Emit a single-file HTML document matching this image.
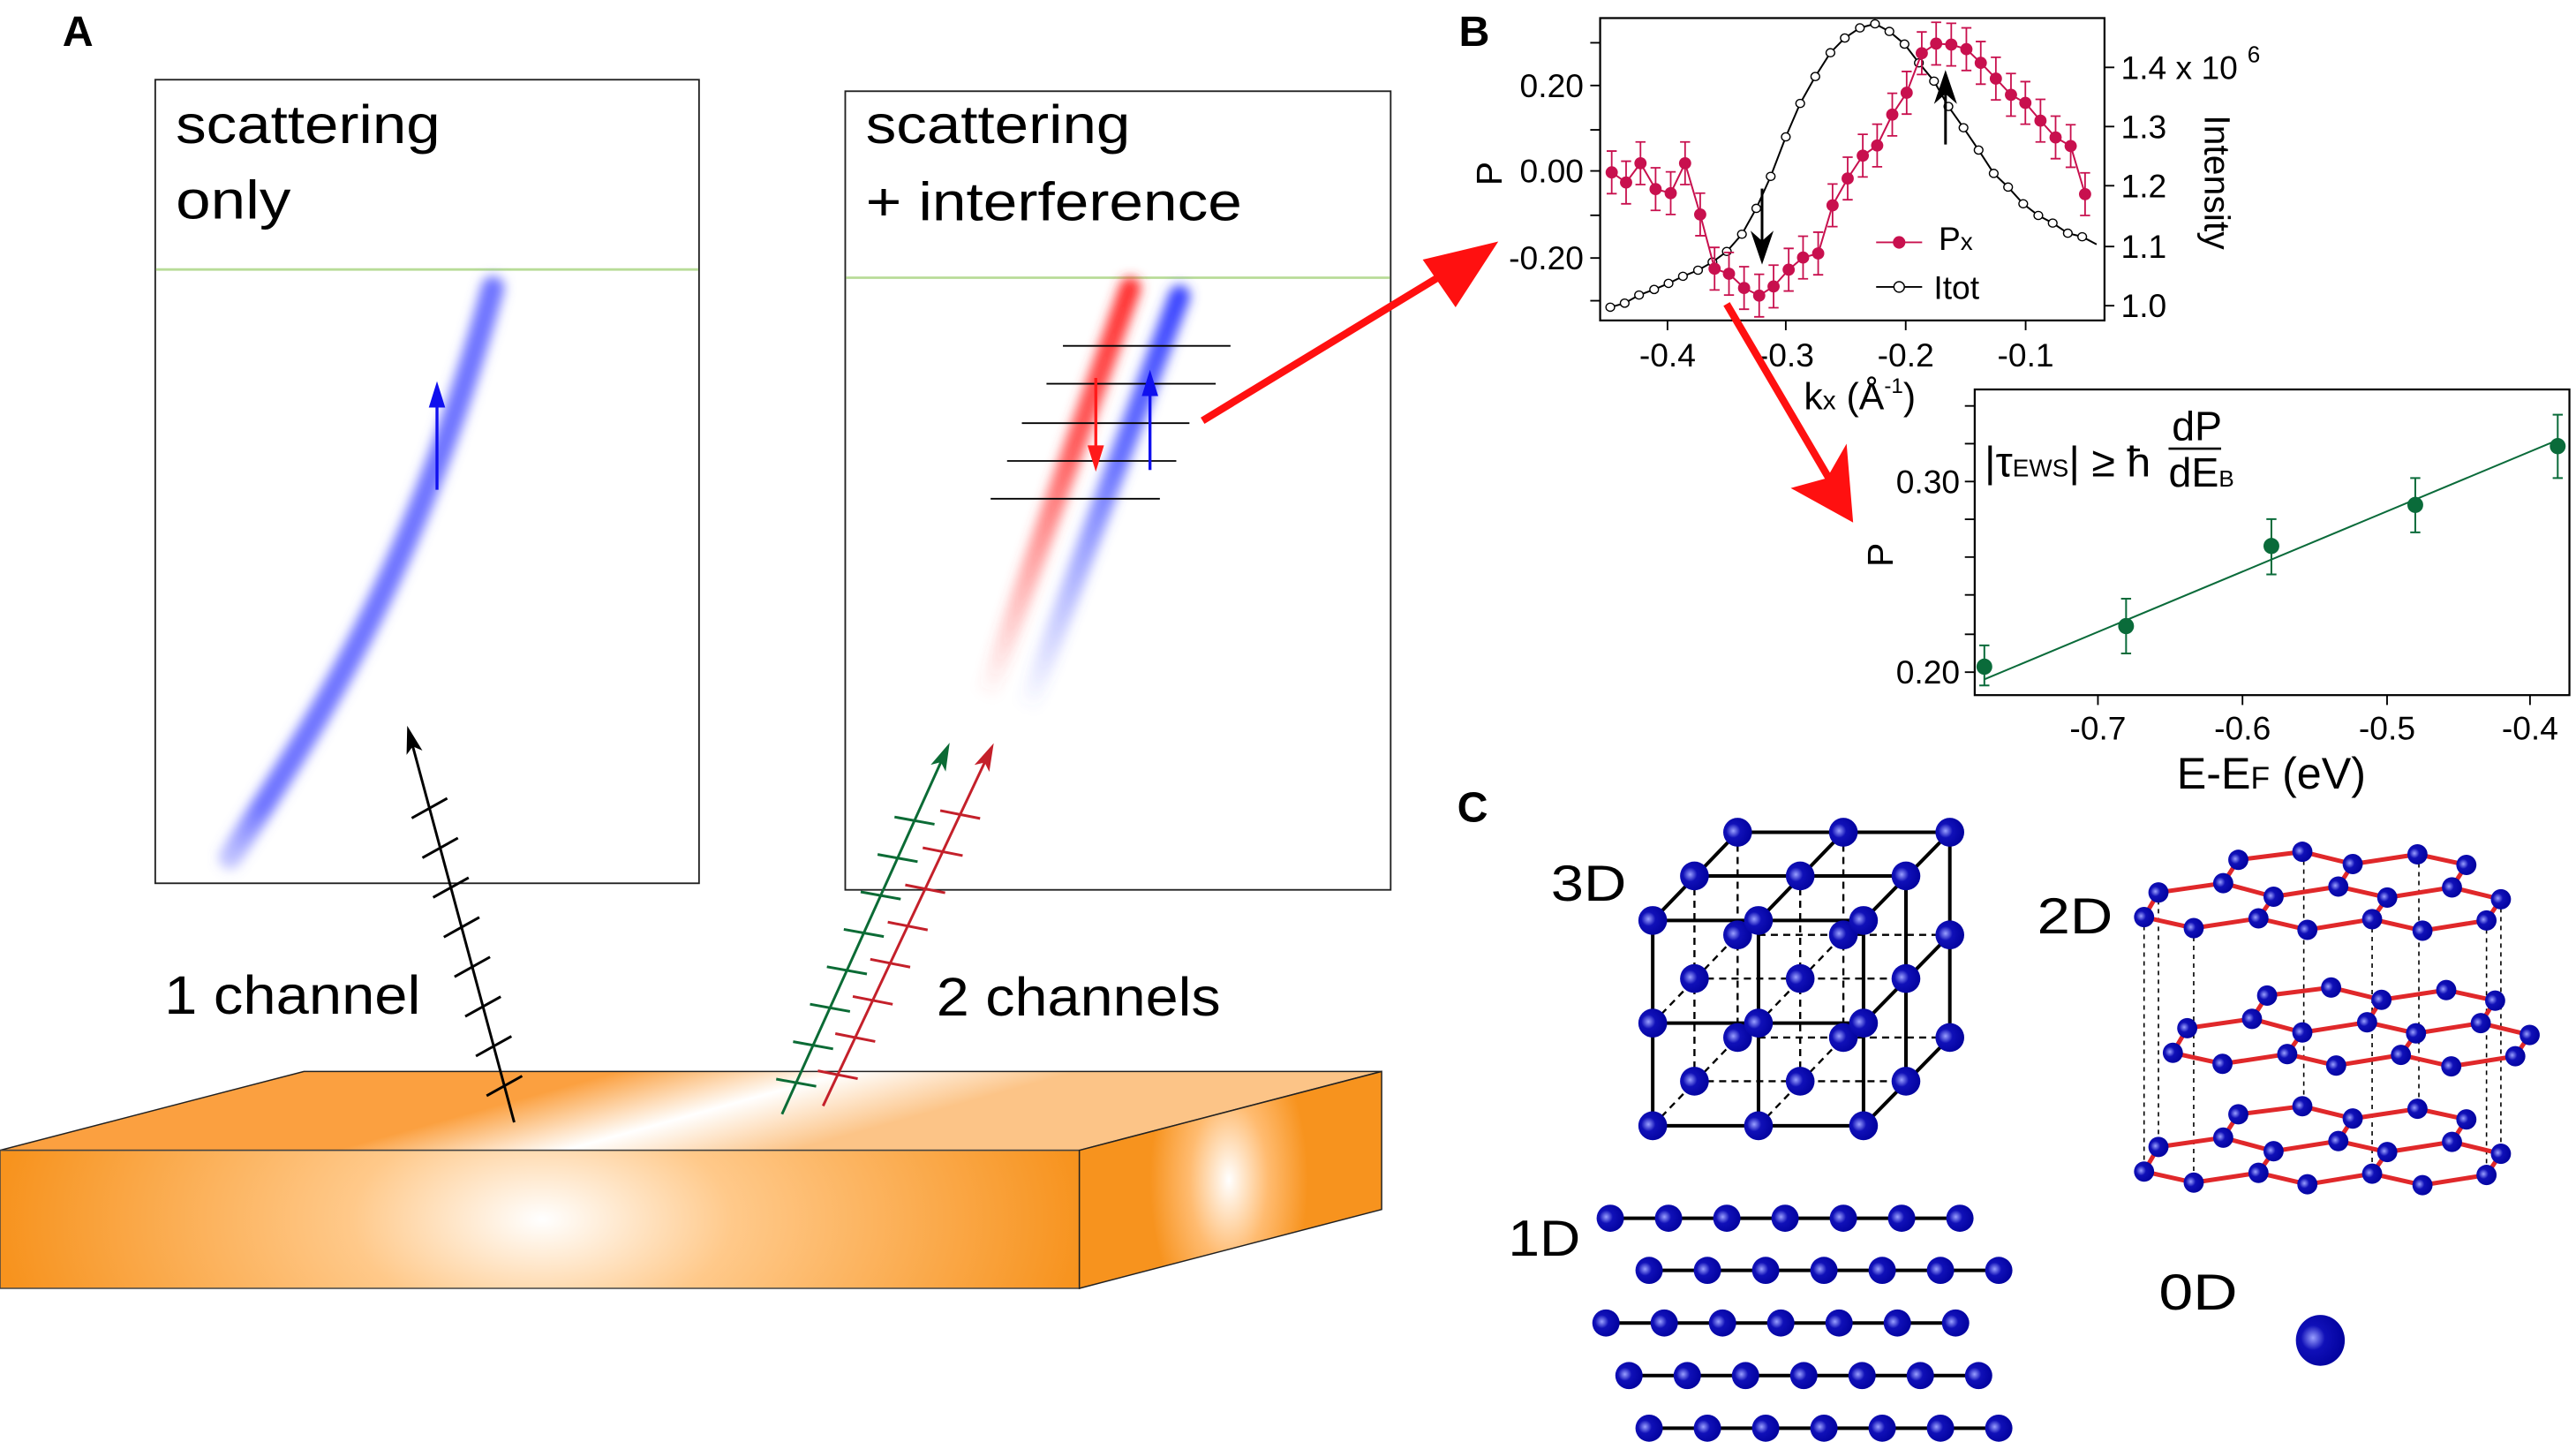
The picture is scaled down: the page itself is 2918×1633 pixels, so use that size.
<!DOCTYPE html>
<html><head><meta charset="utf-8"><style>html,body{margin:0;padding:0;background:#fff}svg{display:block}</style></head>
<body>
<svg xmlns="http://www.w3.org/2000/svg" xmlns:xlink="http://www.w3.org/1999/xlink" width="2918" height="1633" viewBox="0 0 1568 877.5">
<defs>
<filter id="bl" x="-50%" y="-20%" width="200%" height="140%"><feGaussianBlur stdDeviation="3.5"/></filter>
<linearGradient id="gb1" x1="140" y1="525" x2="300" y2="172" gradientUnits="userSpaceOnUse"><stop offset="0" stop-color="#6f74ff" stop-opacity="0.4"/><stop offset="0.1" stop-color="#6f74ff"/><stop offset="1" stop-color="#6f74ff"/></linearGradient>
<linearGradient id="gr2" x1="600" y1="425" x2="688" y2="172" gradientUnits="userSpaceOnUse"><stop offset="0" stop-color="#ff4a4a" stop-opacity="0"/><stop offset="0.6" stop-color="#ff4a4a" stop-opacity="0.9"/><stop offset="1" stop-color="#ff3030"/></linearGradient>
<linearGradient id="gb2" x1="625" y1="432" x2="718" y2="178" gradientUnits="userSpaceOnUse"><stop offset="0" stop-color="#5560ff" stop-opacity="0"/><stop offset="0.6" stop-color="#5560ff" stop-opacity="0.9"/><stop offset="1" stop-color="#3a44ff"/></linearGradient>
<radialGradient id="front" cx="330" cy="742" r="330" gradientTransform="translate(330 742) scale(1 0.55) translate(-330 -742)" gradientUnits="userSpaceOnUse"><stop offset="0" stop-color="#fff"/><stop offset="0.35" stop-color="#ffc98a"/><stop offset="1" stop-color="#f7931e"/></radialGradient>
<radialGradient id="side" cx="748" cy="718" r="60" gradientTransform="translate(748 718) scale(0.8 1.6) translate(-748 -718)" gradientUnits="userSpaceOnUse"><stop offset="0" stop-color="#fff"/><stop offset="0.5" stop-color="#ffbb70"/><stop offset="1" stop-color="#f7931e"/></radialGradient>
<linearGradient id="top" x1="420" y1="640" x2="440" y2="712" gradientUnits="userSpaceOnUse"><stop offset="0" stop-color="#fba040"/><stop offset="0.5" stop-color="#fff"/><stop offset="1" stop-color="#fcc487"/></linearGradient>
<radialGradient id="ball" cx="0.35" cy="0.45" r="0.7"><stop offset="0" stop-color="#9aa0ff"/><stop offset="0.35" stop-color="#1010b8"/><stop offset="1" stop-color="#00009a"/></radialGradient>
<g id="hex">
<g stroke="#e0282a" stroke-width="5" fill="none">
<polyline vector-effect="non-scaling-stroke" points="968,330 1037,356 1127,333 1195,360 1285,335 1355,362 1444,338"/>
<polyline vector-effect="non-scaling-stroke" points="988,272 1078,250 1148,282 1238,258 1306,284 1396,260 1464,288"/>
<polyline vector-effect="non-scaling-stroke" points="1099,195 1188,176 1258,205 1348,182 1416,207"/>
<path vector-effect="non-scaling-stroke" d="M968,330L988,272M1127,333L1148,282M1285,335L1306,284M1444,338L1464,288M1078,250L1099,195M1238,258L1258,205M1396,260L1416,207"/>
</g>
<g fill="url(#ball)">
<ellipse cx="968" cy="330" rx="14" ry="24"/><ellipse cx="1037" cy="356" rx="14" ry="24"/><ellipse cx="1127" cy="333" rx="14" ry="24"/><ellipse cx="1195" cy="360" rx="14" ry="24"/><ellipse cx="1285" cy="335" rx="14" ry="24"/><ellipse cx="1355" cy="362" rx="14" ry="24"/><ellipse cx="1444" cy="338" rx="14" ry="24"/>
<ellipse cx="988" cy="272" rx="14" ry="24"/><ellipse cx="1078" cy="250" rx="14" ry="24"/><ellipse cx="1148" cy="282" rx="14" ry="24"/><ellipse cx="1238" cy="258" rx="14" ry="24"/><ellipse cx="1306" cy="284" rx="14" ry="24"/><ellipse cx="1396" cy="260" rx="14" ry="24"/><ellipse cx="1464" cy="288" rx="14" ry="24"/>
<ellipse cx="1099" cy="195" rx="14" ry="24"/><ellipse cx="1188" cy="176" rx="14" ry="24"/><ellipse cx="1258" cy="205" rx="14" ry="24"/><ellipse cx="1348" cy="182" rx="14" ry="24"/><ellipse cx="1416" cy="207" rx="14" ry="24"/>
</g>
</g>
<g id="chain">
<line x1="0" y1="0" x2="486" y2="0" stroke="#000" stroke-width="4" vector-effect="non-scaling-stroke"/>
<g fill="url(#ball)"><ellipse cx="0" cy="0" rx="19" ry="32"/><ellipse cx="81" cy="0" rx="19" ry="32"/><ellipse cx="162" cy="0" rx="19" ry="32"/><ellipse cx="243" cy="0" rx="19" ry="32"/><ellipse cx="324" cy="0" rx="19" ry="32"/><ellipse cx="405" cy="0" rx="19" ry="32"/><ellipse cx="486" cy="0" rx="19" ry="32"/></g>
</g>
</defs>

<g font-family="'Liberation Sans', 'DejaVu Sans', sans-serif">
<!-- Panel A -->
<text x="38" y="28" font-size="26" font-weight="bold">A</text>
<rect x="94.5" y="48.5" width="331" height="489" fill="none" stroke="#222" stroke-width="1"/>
<line x1="95" y1="164" x2="425" y2="164" stroke="#b8dc98" stroke-width="1.5"/>
<text x="107" y="87" font-size="33" textLength="161" lengthAdjust="spacingAndGlyphs">scattering</text>
<text x="107" y="133" font-size="33" textLength="70" lengthAdjust="spacingAndGlyphs">only</text>
<path d="M140,522 C185,450 250,360 300,175" stroke="url(#gb1)" stroke-width="14" fill="none" stroke-linecap="round" filter="url(#bl)"/>
<line x1="266" y1="298" x2="266" y2="245" stroke="#1010ee" stroke-width="1.8"/>
<polygon points="266,232 261,248 271,248" fill="#1010ee"/>

<rect x="514.5" y="55.5" width="332" height="486" fill="none" stroke="#222" stroke-width="1"/>
<line x1="515" y1="169" x2="846" y2="169" stroke="#b8dc98" stroke-width="1.5"/>
<text x="527" y="87" font-size="33" textLength="161" lengthAdjust="spacingAndGlyphs">scattering</text>
<text x="527" y="134" font-size="33" textLength="229" lengthAdjust="spacingAndGlyphs">+ interference</text>
<line x1="600" y1="425" x2="688" y2="175" stroke="url(#gr2)" stroke-width="13" stroke-linecap="round" filter="url(#bl)"/>
<line x1="625" y1="432" x2="718" y2="180" stroke="url(#gb2)" stroke-width="13" stroke-linecap="round" filter="url(#bl)"/>
<g stroke="#000" stroke-width="1">
<line x1="647" y1="210.5" x2="749" y2="210.5"/><line x1="637" y1="233.5" x2="740" y2="233.5"/><line x1="622" y1="257.5" x2="724" y2="257.5"/><line x1="613" y1="280.5" x2="716" y2="280.5"/><line x1="603" y1="303.5" x2="706" y2="303.5"/>
</g>
<line x1="667" y1="230" x2="667" y2="274" stroke="#ff1a1a" stroke-width="1.8"/>
<polygon points="667,287 662,271 672,271" fill="#ff1a1a"/>
<line x1="700" y1="286" x2="700" y2="238" stroke="#1010ee" stroke-width="1.8"/>
<polygon points="700,225 695,241 705,241" fill="#1010ee"/>

<line x1="732" y1="256" x2="885" y2="163" stroke="#ff1010" stroke-width="4.5"/>
<polygon points="912,147 866,158 886,187" fill="#ff1010"/>

<polygon points="0,700 185,652 841,652 657,700" fill="url(#top)" stroke="#222" stroke-width="0.8"/>
<rect x="0" y="700" width="657" height="84" fill="url(#front)" stroke="#444" stroke-width="0.8"/>
<polygon points="657,700 841,652 841,736 657,784" fill="url(#side)" stroke="#222" stroke-width="0.8"/>

<g transform="translate(313,683) rotate(-15.1)" stroke="#000" stroke-width="1.6">
<line x1="0" y1="0" x2="0" y2="-238"/>
<path d="M-12,-20L12,-26M-12,-45L12,-51M-12,-70L12,-76M-12,-95L12,-101M-12,-120L12,-126M-12,-145L12,-151M-12,-170L12,-176M-12,-195L12,-201" />
<polygon points="0,-250 -5,-233 0,-237 5,-233" fill="#000" stroke="none"/>
</g>
<g transform="translate(476,678) rotate(24.3)" stroke="#0b6b35" stroke-width="1.6">
<line x1="0" y1="0" x2="0" y2="-236"/>
<path d="M-12,-18L12,-24M-12,-43L12,-49M-12,-68L12,-74M-12,-93L12,-99M-12,-118L12,-124M-12,-143L12,-149M-12,-168L12,-174M-12,-193L12,-199"/>
<polygon points="0,-248 -5,-231 0,-235 5,-231" fill="#0b6b35" stroke="none"/>
</g>
<g transform="translate(501,673) rotate(25.2)" stroke="#c4202a" stroke-width="1.6">
<line x1="0" y1="0" x2="0" y2="-232"/>
<path d="M-12,-18L12,-24M-12,-43L12,-49M-12,-68L12,-74M-12,-93L12,-99M-12,-118L12,-124M-12,-143L12,-149M-12,-168L12,-174M-12,-193L12,-199"/>
<polygon points="0,-244 -5,-227 0,-231 5,-227" fill="#c4202a" stroke="none"/>
</g>
<text x="100" y="617" font-size="33" textLength="156" lengthAdjust="spacingAndGlyphs">1 channel</text>
<text x="570" y="618" font-size="33" textLength="173" lengthAdjust="spacingAndGlyphs">2 channels</text>

<!-- Panel B -->
<text x="888" y="28" font-size="26" font-weight="bold">B</text>
<rect x="974" y="11" width="307" height="184" fill="none" stroke="#000" stroke-width="1.2"/>
<g stroke="#000" stroke-width="1">
<path d="M968,26H974M968,52H974M968,79H974M968,104H974M968,131H974M968,157H974M968,183H974"/>
<path d="M1015,195V201M1087,195V201M1160,195V201M1233,195V201"/>
<path d="M1281,41H1287M1281,77H1287M1281,113H1287M1281,150H1287M1281,186H1287"/>
</g>
<g font-family="'Liberation Sans Narrow','Liberation Sans',sans-serif" font-size="20" text-anchor="end">
<text x="964" y="59">0.20</text><text x="964" y="111">0.00</text><text x="964" y="164">-0.20</text>
</g>
<g font-family="'Liberation Sans Narrow','Liberation Sans',sans-serif" font-size="20" text-anchor="middle">
<text x="1015" y="223">-0.4</text><text x="1087" y="223">-0.3</text><text x="1160" y="223">-0.2</text><text x="1233" y="223">-0.1</text>
</g>
<g font-family="'Liberation Sans Narrow','Liberation Sans',sans-serif" font-size="20">
<text x="1291" y="48">1.4 x 10</text><text x="1368" y="38" font-size="14">6</text>
<text x="1291" y="84">1.3</text><text x="1291" y="120">1.2</text><text x="1291" y="157">1.1</text><text x="1291" y="193">1.0</text>
<text transform="translate(1342,70) rotate(90)" font-size="22">Intensity</text>
<text transform="translate(914,113) rotate(-90)" font-size="22">P</text>
<text x="1098" y="249" font-size="23">k<tspan font-size="16">x</tspan> (Å<tspan font-size="13" dy="-10">-1</tspan><tspan dy="10">)</tspan></text>
<text x="1180" y="152" font-size="20">P<tspan font-size="15">x</tspan></text>
<text x="1177" y="182" font-size="20">Itot</text>
<text transform="translate(1152,345) rotate(-90)" font-size="22">P</text>
<text x="1193" y="300" text-anchor="end">0.30</text><text x="1193" y="416" text-anchor="end">0.20</text>
<g text-anchor="middle"><text x="1277" y="450">-0.7</text><text x="1365" y="450">-0.6</text><text x="1453" y="450">-0.5</text><text x="1540" y="450">-0.4</text></g>
<text x="1325" y="480" font-size="27">E-E<tspan font-size="19">F</tspan> (eV)</text>
<text x="1208" y="290" font-size="26">|τ<tspan font-size="15">EWS</tspan>| ≥ ħ</text>
<text x="1322" y="268" font-size="25">dP</text>
<line x1="1320" y1="273" x2="1352" y2="273" stroke="#000" stroke-width="1.4"/>
<text x="1320" y="296" font-size="25">dE<tspan font-size="14">B</tspan></text>
</g>
<line x1="1142" y1="147.5" x2="1170" y2="147.5" stroke="#c8104e" stroke-width="1"/>
<circle cx="1156" cy="147.5" r="3.8" fill="#c8104e"/>
<line x1="1142" y1="174.6" x2="1170" y2="174.6" stroke="#000" stroke-width="1"/>
<circle cx="1156" cy="174.6" r="3.2" fill="#fff" stroke="#000" stroke-width="0.8"/>

<rect x="1202" y="237" width="362" height="186" fill="none" stroke="#000" stroke-width="1.2"/>
<g stroke="#000" stroke-width="1">
<path d="M1196,247H1202M1196,270H1202M1196,293H1202M1196,316H1202M1196,339H1202M1196,362H1202M1196,386H1202M1196,409H1202"/>
<path d="M1277,423V429M1365,423V429M1453,423V429M1540,423V429"/>
</g>

<g transform="translate(881.2,0) scale(0.4379,0.3085)">
<polyline fill="none" stroke="#000" stroke-width="2" vector-effect="non-scaling-stroke" points="226,606 246,598 266,582 287,571 307,559 327,545 348,533 368,517 388,496 409,462 429,411 449,348 470,270 490,204 511,151 532,104 552,75 573,55 594,47 614,62 635,87 655,124 676,160 696,210 717,252 738,296 759,342 779,369 800,402 821,425 841,440 862,460 882,467 902,482"/>
<g fill="#fff" stroke="#000">
<ellipse cx="226" cy="606" rx="6" ry="8" stroke-width="1.4" vector-effect="non-scaling-stroke"/><ellipse cx="246" cy="598" rx="6" ry="8" stroke-width="1.4" vector-effect="non-scaling-stroke"/><ellipse cx="266" cy="582" rx="6" ry="8" stroke-width="1.4" vector-effect="non-scaling-stroke"/><ellipse cx="287" cy="571" rx="6" ry="8" stroke-width="1.4" vector-effect="non-scaling-stroke"/><ellipse cx="307" cy="559" rx="6" ry="8" stroke-width="1.4" vector-effect="non-scaling-stroke"/><ellipse cx="327" cy="545" rx="6" ry="8" stroke-width="1.4" vector-effect="non-scaling-stroke"/><ellipse cx="348" cy="533" rx="6" ry="8" stroke-width="1.4" vector-effect="non-scaling-stroke"/><ellipse cx="368" cy="517" rx="6" ry="8" stroke-width="1.4" vector-effect="non-scaling-stroke"/><ellipse cx="388" cy="496" rx="6" ry="8" stroke-width="1.4" vector-effect="non-scaling-stroke"/><ellipse cx="409" cy="462" rx="6" ry="8" stroke-width="1.4" vector-effect="non-scaling-stroke"/><ellipse cx="429" cy="411" rx="6" ry="8" stroke-width="1.4" vector-effect="non-scaling-stroke"/><ellipse cx="449" cy="348" rx="6" ry="8" stroke-width="1.4" vector-effect="non-scaling-stroke"/><ellipse cx="470" cy="270" rx="6" ry="8" stroke-width="1.4" vector-effect="non-scaling-stroke"/><ellipse cx="490" cy="204" rx="6" ry="8" stroke-width="1.4" vector-effect="non-scaling-stroke"/><ellipse cx="511" cy="151" rx="6" ry="8" stroke-width="1.4" vector-effect="non-scaling-stroke"/><ellipse cx="532" cy="104" rx="6" ry="8" stroke-width="1.4" vector-effect="non-scaling-stroke"/><ellipse cx="552" cy="75" rx="6" ry="8" stroke-width="1.4" vector-effect="non-scaling-stroke"/><ellipse cx="573" cy="55" rx="6" ry="8" stroke-width="1.4" vector-effect="non-scaling-stroke"/><ellipse cx="594" cy="47" rx="6" ry="8" stroke-width="1.4" vector-effect="non-scaling-stroke"/><ellipse cx="614" cy="62" rx="6" ry="8" stroke-width="1.4" vector-effect="non-scaling-stroke"/><ellipse cx="635" cy="87" rx="6" ry="8" stroke-width="1.4" vector-effect="non-scaling-stroke"/><ellipse cx="655" cy="124" rx="6" ry="8" stroke-width="1.4" vector-effect="non-scaling-stroke"/><ellipse cx="676" cy="160" rx="6" ry="8" stroke-width="1.4" vector-effect="non-scaling-stroke"/><ellipse cx="696" cy="210" rx="6" ry="8" stroke-width="1.4" vector-effect="non-scaling-stroke"/><ellipse cx="717" cy="252" rx="6" ry="8" stroke-width="1.4" vector-effect="non-scaling-stroke"/><ellipse cx="738" cy="296" rx="6" ry="8" stroke-width="1.4" vector-effect="non-scaling-stroke"/><ellipse cx="759" cy="342" rx="6" ry="8" stroke-width="1.4" vector-effect="non-scaling-stroke"/><ellipse cx="779" cy="369" rx="6" ry="8" stroke-width="1.4" vector-effect="non-scaling-stroke"/><ellipse cx="800" cy="402" rx="6" ry="8" stroke-width="1.4" vector-effect="non-scaling-stroke"/><ellipse cx="821" cy="425" rx="6" ry="8" stroke-width="1.4" vector-effect="non-scaling-stroke"/><ellipse cx="841" cy="440" rx="6" ry="8" stroke-width="1.4" vector-effect="non-scaling-stroke"/><ellipse cx="862" cy="460" rx="6" ry="8" stroke-width="1.4" vector-effect="non-scaling-stroke"/><ellipse cx="882" cy="467" rx="6" ry="8" stroke-width="1.4" vector-effect="non-scaling-stroke"/>
</g>
<polyline fill="none" stroke="#c8104e" stroke-width="2" vector-effect="non-scaling-stroke" points="228,340 248,360 268,322 289,373 310,381 330,322 351,423 371,530 391,540 412,568 433,583 453,565 474,532 494,508 515,500 535,405 556,352 577,307 597,287 618,226 638,183 659,105 679,86 700,88 721,97 741,124 762,155 783,187 803,203 824,238 845,271 866,288 886,383"/>
<path fill="none" stroke="#c8104e" stroke-width="1.8" vector-effect="non-scaling-stroke" d="M228,298V382M248,318V402M268,280V364M289,331V415M310,339V423M330,280V364M351,381V465M371,488V572M391,498V582M412,526V610M433,541V625M453,523V607M474,490V574M494,466V550M515,458V542M535,363V447M556,310V394M577,265V349M597,245V329M618,184V268M638,141V225M659,63V147M679,44V128M700,46V130M721,55V139M741,82V166M762,113V197M783,145V229M803,161V245M824,196V280M845,229V313M866,246V330M886,341V425 M221,298h14M221,382h14M241,318h14M241,402h14M261,280h14M261,364h14M282,331h14M282,415h14M303,339h14M303,423h14M323,280h14M323,364h14M344,381h14M344,465h14M364,488h14M364,572h14M384,498h14M384,582h14M405,526h14M405,610h14M426,541h14M426,625h14M446,523h14M446,607h14M467,490h14M467,574h14M487,466h14M487,550h14M508,458h14M508,542h14M528,363h14M528,447h14M549,310h14M549,394h14M570,265h14M570,349h14M590,245h14M590,329h14M611,184h14M611,268h14M631,141h14M631,225h14M652,63h14M652,147h14M672,44h14M672,128h14M693,46h14M693,130h14M714,55h14M714,139h14M734,82h14M734,166h14M755,113h14M755,197h14M776,145h14M776,229h14M796,161h14M796,245h14M817,196h14M817,280h14M838,229h14M838,313h14M859,246h14M859,330h14M879,341h14M879,425h14"/>
<g fill="#c8104e">
<ellipse cx="228" cy="340" rx="8.5" ry="12"/><ellipse cx="248" cy="360" rx="8.5" ry="12"/><ellipse cx="268" cy="322" rx="8.5" ry="12"/><ellipse cx="289" cy="373" rx="8.5" ry="12"/><ellipse cx="310" cy="381" rx="8.5" ry="12"/><ellipse cx="330" cy="322" rx="8.5" ry="12"/><ellipse cx="351" cy="423" rx="8.5" ry="12"/><ellipse cx="371" cy="530" rx="8.5" ry="12"/><ellipse cx="391" cy="540" rx="8.5" ry="12"/><ellipse cx="412" cy="568" rx="8.5" ry="12"/><ellipse cx="433" cy="583" rx="8.5" ry="12"/><ellipse cx="453" cy="565" rx="8.5" ry="12"/><ellipse cx="474" cy="532" rx="8.5" ry="12"/><ellipse cx="494" cy="508" rx="8.5" ry="12"/><ellipse cx="515" cy="500" rx="8.5" ry="12"/><ellipse cx="535" cy="405" rx="8.5" ry="12"/><ellipse cx="556" cy="352" rx="8.5" ry="12"/><ellipse cx="577" cy="307" rx="8.5" ry="12"/><ellipse cx="597" cy="287" rx="8.5" ry="12"/><ellipse cx="618" cy="226" rx="8.5" ry="12"/><ellipse cx="638" cy="183" rx="8.5" ry="12"/><ellipse cx="659" cy="105" rx="8.5" ry="12"/><ellipse cx="679" cy="86" rx="8.5" ry="12"/><ellipse cx="700" cy="88" rx="8.5" ry="12"/><ellipse cx="721" cy="97" rx="8.5" ry="12"/><ellipse cx="741" cy="124" rx="8.5" ry="12"/><ellipse cx="762" cy="155" rx="8.5" ry="12"/><ellipse cx="783" cy="187" rx="8.5" ry="12"/><ellipse cx="803" cy="203" rx="8.5" ry="12"/><ellipse cx="824" cy="238" rx="8.5" ry="12"/><ellipse cx="845" cy="271" rx="8.5" ry="12"/><ellipse cx="866" cy="288" rx="8.5" ry="12"/><ellipse cx="886" cy="383" rx="8.5" ry="12"/>
</g>
<line x1="437" y1="372" x2="437" y2="480" stroke="#000" stroke-width="3" vector-effect="non-scaling-stroke"/>
<polygon points="437,522 421,455 437,475 453,455" fill="#000"/>
<line x1="692" y1="285" x2="692" y2="185" stroke="#000" stroke-width="3" vector-effect="non-scaling-stroke"/>
<polygon points="692,138 676,205 692,185 708,205" fill="#000"/>
<line x1="746" y1="1340" x2="1543" y2="868" stroke="#0a6b3a" stroke-width="2" vector-effect="non-scaling-stroke"/>
<path fill="none" stroke="#0a6b3a" stroke-width="2" vector-effect="non-scaling-stroke" d="M746,1273V1352M943,1181V1289M1145,1024V1133M1345,943V1050M1543,818V943M739,1273h14M739,1352h14M936,1181h14M936,1289h14M1138,1024h14M1138,1133h14M1338,943h14M1338,1050h14M1536,818h14M1536,943h14"/>
<g fill="#0a6b3a"><ellipse cx="746" cy="1315" rx="11" ry="16"/><ellipse cx="943" cy="1235" rx="11" ry="16"/><ellipse cx="1145" cy="1077" rx="11" ry="16"/><ellipse cx="1345" cy="996" rx="11" ry="16"/><ellipse cx="1543" cy="880" rx="11" ry="16"/></g>
</g>
<line x1="1051" y1="185" x2="1115" y2="294" stroke="#ff1010" stroke-width="4.5"/>
<polygon points="1128,318 1090,297 1112,291 1124,270" fill="#ff1010"/>

<!-- Panel C -->
<text x="887" y="500" font-size="26" font-weight="bold">C</text>
<g font-size="31" font-family="'Liberation Sans','DejaVu Sans',sans-serif">
<text x="944" y="548" textLength="46" lengthAdjust="spacingAndGlyphs">3D</text>
<text x="1240" y="568" textLength="46" lengthAdjust="spacingAndGlyphs">2D</text>
<text x="918" y="764" textLength="44" lengthAdjust="spacingAndGlyphs">1D</text>
<text x="1314" y="797" textLength="48" lengthAdjust="spacingAndGlyphs">0D</text>
</g>
<g transform="translate(881.2,472.9) scale(0.4379,0.2581)">
<g stroke="#000" stroke-width="2.4" stroke-dasharray="8,6" fill="none">
<path vector-effect="non-scaling-stroke" d="M403,130V614M550,130V614M343,233V717M490,233V717M432,372H698M343,475H637M432,614H698M343,717H637M285,580L403,372M285,822L403,614M432,580L550,372M432,822L550,614"/>
</g>
<g stroke="#000" stroke-width="4" fill="none">
<path vector-effect="non-scaling-stroke" d="M285,338H578M285,580H578M285,822H578M285,338V822M432,338V822M578,338V822M403,130H698M343,233H637M285,338L403,130M432,338L550,130M578,338L698,130M698,130V614M637,233V717M578,580L698,372M578,822L698,614"/>
</g>
<g fill="url(#ball)">
<ellipse cx="403" cy="130" rx="20" ry="34"/><ellipse cx="550" cy="130" rx="20" ry="34"/><ellipse cx="698" cy="130" rx="20" ry="34"/><ellipse cx="403" cy="372" rx="20" ry="34"/><ellipse cx="550" cy="372" rx="20" ry="34"/><ellipse cx="698" cy="372" rx="20" ry="34"/><ellipse cx="403" cy="614" rx="20" ry="34"/><ellipse cx="550" cy="614" rx="20" ry="34"/><ellipse cx="698" cy="614" rx="20" ry="34"/>
<ellipse cx="343" cy="233" rx="20" ry="34"/><ellipse cx="490" cy="233" rx="20" ry="34"/><ellipse cx="637" cy="233" rx="20" ry="34"/><ellipse cx="343" cy="475" rx="20" ry="34"/><ellipse cx="490" cy="475" rx="20" ry="34"/><ellipse cx="637" cy="475" rx="20" ry="34"/><ellipse cx="343" cy="717" rx="20" ry="34"/><ellipse cx="490" cy="717" rx="20" ry="34"/><ellipse cx="637" cy="717" rx="20" ry="34"/>
<ellipse cx="285" cy="338" rx="20" ry="34"/><ellipse cx="432" cy="338" rx="20" ry="34"/><ellipse cx="578" cy="338" rx="20" ry="34"/><ellipse cx="285" cy="580" rx="20" ry="34"/><ellipse cx="432" cy="580" rx="20" ry="34"/><ellipse cx="578" cy="580" rx="20" ry="34"/><ellipse cx="285" cy="822" rx="20" ry="34"/><ellipse cx="432" cy="822" rx="20" ry="34"/><ellipse cx="578" cy="822" rx="20" ry="34"/>
</g>
<path fill="none" stroke="#000" stroke-width="1.6" stroke-dasharray="5,5" vector-effect="non-scaling-stroke" d="M968,330V930M988,290V890M1037,356V956M1190,176V776M1285,335V935M1350,182V782M1444,338V938M1464,288V888"/>
<use xlink:href="#hex" transform="translate(0,600)"/>
<use xlink:href="#hex" transform="translate(40,320)"/>
<use xlink:href="#hex"/>
<use xlink:href="#chain" transform="translate(226,1040)"/>
<use xlink:href="#chain" transform="translate(280,1163)"/>
<use xlink:href="#chain" transform="translate(220,1287)"/>
<use xlink:href="#chain" transform="translate(252,1411)"/>
<use xlink:href="#chain" transform="translate(280,1535)"/>
<ellipse cx="1213" cy="1328" rx="34" ry="60" fill="url(#ball)"/>
</g>
</g>
</svg>
</body></html>
